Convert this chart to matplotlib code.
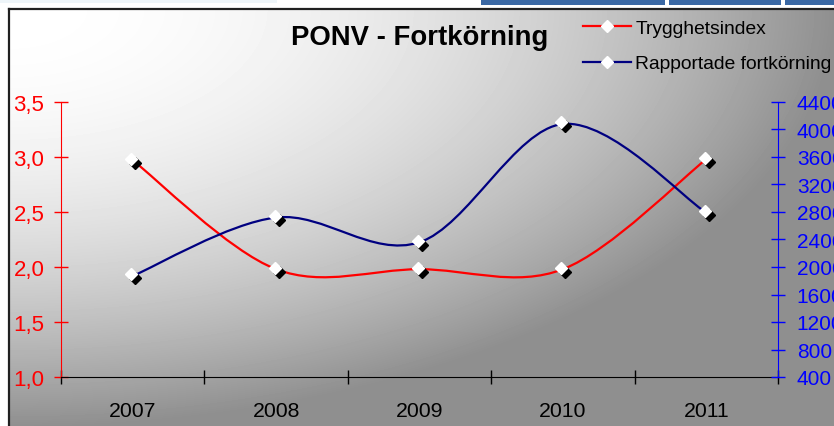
import numpy as np
import matplotlib
matplotlib.use("Agg")
import matplotlib.pyplot as plt
from matplotlib.path import Path
from matplotlib.patches import PathPatch, Rectangle
from matplotlib.lines import Line2D
from matplotlib.ticker import FuncFormatter
from matplotlib.transforms import offset_copy

plt.rcParams['font.family'] = ['Liberation Sans', 'DejaVu Sans']

# data
years = ['2007', '2008', '2009', '2010', '2011']
trygghet = [2.97, 1.98, 1.98, 1.98, 2.98]
fortkorning = [1870, 2720, 2360, 4080, 2790]

left_ticks = [1.0, 1.5, 2.0, 2.5, 3.0, 3.5]
right_ticks = list(range(400, 4401, 400))

W, H = 834, 427
fig = plt.figure(figsize=(W / 100, H / 100), dpi=100)
fig.patch.set_facecolor('white')

# background: chart area with corner gradient, plus bits of window chrome
bg = fig.add_axes([0, 0, 1, 1], zorder=-10)
bg.set_xlim(0, W)
bg.set_ylim(H, 0)
bg.axis('off')
cx0, cy0 = 9, 10
gx, gy = np.meshgrid(np.arange(cx0, W), np.arange(cy0, H))
u = (gx - cx0) / (W - cx0)
v = (gy - cy0) / (H - cy0)
bright = (255 - 112 * np.minimum(u ** 2 + v ** 2, 1.0)) / 255.0
bg.imshow(bright, cmap='gray', vmin=0, vmax=1, extent=(cx0, W, H, cy0),
          aspect='auto', interpolation='bilinear')
bg.plot([cx0, cx0], [cy0, H], color='#202020', lw=1.6)
bg.plot([cx0, W], [cy0, cy0], color='#202020', lw=1.6)
bg.add_patch(Rectangle((0, 0), 277, 3.5, color='#eef5f9', lw=0))
for x0, x1 in [(481, 665), (669, 781), (785, W)]:
    bg.add_patch(Rectangle((x0, 0), x1 - x0, 5.5, color='#3a68a4', lw=0))

ax = fig.add_axes([61 / W, (H - 378) / H, 717 / W, 275 / H])
ax.set_facecolor('none')
ax2 = ax.twinx()
ax2.set_facecolor('none')


def smooth_path(xs, ys):
    # excel style smoothed line as cubic bezier segments
    pts = np.column_stack([xs, ys]).astype(float)
    n = len(pts)
    verts = [pts[0]]
    codes = [Path.MOVETO]
    for i in range(n - 1):
        p0 = pts[max(i - 1, 0)]
        p1 = pts[i]
        p2 = pts[i + 1]
        p3 = pts[min(i + 2, n - 1)]
        verts += [p1 + (p2 - p0) / 6, p2 - (p3 - p1) / 6, p2]
        codes += [Path.CURVE4] * 3
    return Path(verts, codes)


xs = np.arange(len(years)) + 0.5


def draw_series(a, ys, color):
    a.add_patch(PathPatch(smooth_path(xs, ys), fill=False, edgecolor=color,
                          lw=1.6, zorder=3))
    sh = offset_copy(a.transData, fig=fig, x=2.5, y=-2.5, units='dots')
    wt = offset_copy(a.transData, fig=fig, x=-1.5, y=1.5, units='dots')
    a.plot(xs, ys, ls='none', marker='D', ms=6.5, mfc='black', mec='black',
           transform=sh, zorder=4, clip_on=False)
    a.plot(xs, ys, ls='none', marker='D', ms=6.5, mfc='white', mec='white',
           transform=wt, zorder=5, clip_on=False)


draw_series(ax, trygghet, '#ff0000')
draw_series(ax2, fortkorning, '#000080')

ax.set_xlim(0, 5)
ax.set_ylim(1.0, 3.5)
ax2.set_ylim(400, 4400)

ax.set_xticks(range(6))
ax.set_xticklabels([])
ax.set_xticks(xs, minor=True)
ax.set_xticklabels(years, minor=True)
ax.tick_params(axis='x', which='major', direction='inout', length=10,
               width=1, color='black')
ax.tick_params(axis='x', which='minor', length=0, pad=17,
               labelsize=15.3, labelcolor='black')

ax.set_yticks(left_ticks)
ax.yaxis.set_major_formatter(FuncFormatter(lambda y, p: f"{y:.1f}".replace('.', ',')))
ax.tick_params(axis='y', direction='inout', length=10, width=1, color='#ff0000',
               labelcolor='#ff0000', labelsize=16, pad=7)

ax2.set_yticks(right_ticks)
ax2.tick_params(axis='y', direction='inout', length=10, width=1, color='#0000ff',
                labelcolor='#0000ff', labelsize=15, pad=8.5)

for s in ['top', 'right']:
    ax.spines[s].set_visible(False)
ax.spines['left'].set_color('#ff0000')
ax.spines['bottom'].set_color('black')
for s in ['top', 'left', 'bottom']:
    ax2.spines[s].set_visible(False)
ax2.spines['right'].set_color('#0000ff')

fig.text(420 / W, 1 - 38 / H, 'PONV - Fortkörning', ha='center', va='center',
         fontsize=19.8, fontweight='bold')

handles = [
    Line2D([], [], color='#ff0000', lw=1.6, marker='D', ms=6.5, mfc='white', mec='white'),
    Line2D([], [], color='#000080', lw=1.6, marker='D', ms=6.5, mfc='white', mec='white'),
]
fig.legend(handles, ['Trygghetsindex', 'Rapportade fortkörning'],
           loc='upper left', bbox_to_anchor=(583 / W, 1 - 20 / H),
           frameon=False, fontsize=13.9, borderpad=0, borderaxespad=0,
           handlelength=2.5, handletextpad=0.2, labelspacing=0.95)

fig.savefig('out.png', dpi=100)
